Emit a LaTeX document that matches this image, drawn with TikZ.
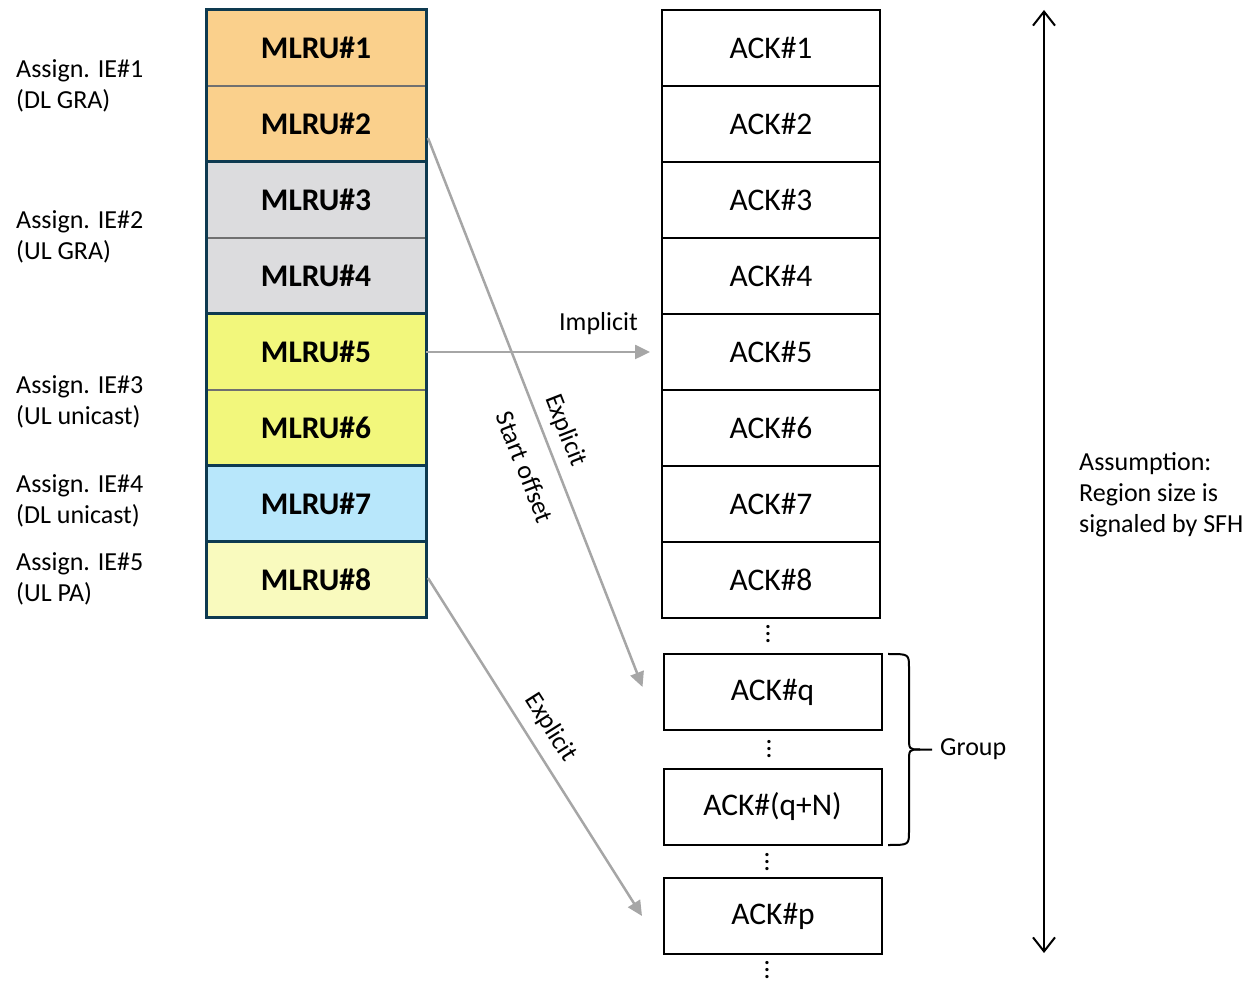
\documentclass[tikz,border=0pt]{standalone}
\usepackage{fontspec}
\setmainfont{Carlito}
\usetikzlibrary{arrows.meta,positioning}
\definecolor{mlruorange}{HTML}{FAD08C}
\definecolor{mlrugray}{HTML}{DCDCDE}
\definecolor{mlruyellow}{HTML}{F2F77C}
\definecolor{mlrublue}{HTML}{B8E7FB}
\definecolor{mlrupale}{HTML}{F9FABE}
\definecolor{mlruedge}{HTML}{0E3A50}
\definecolor{sepgray}{HTML}{707070}
\definecolor{arrgray}{HTML}{A6A6A6}
\tikzset{
  mlru/.style ={draw=sepgray,line width=1.2pt,minimum width=220pt,minimum height=76pt,
                inner sep=0pt,outer sep=0pt,font=\fontsize{31.5}{36}\selectfont\bfseries},
  ack/.style  ={draw,line width=2pt,minimum width=218pt,minimum height=76pt,
                inner sep=0pt,outer sep=0pt,font=\fontsize{31.5}{36}\selectfont},
  grp/.style  ={draw=mlruedge,line width=3pt},
  ie/.style   ={anchor=west,align=left,inner sep=0pt,font=\fontsize{26}{31}\selectfont},
  lbl/.style  ={inner sep=1pt,font=\fontsize{26}{31}\selectfont},
  gar/.style  ={draw=arrgray,line width=2.5pt,-{Triangle[length=15pt,width=14pt]}},
  dar/.style  ={line width=2pt,{Straight Barb[length=14pt,width=22pt]}-{Straight Barb[length=14pt,width=22pt]}},
  vdt/.style  ={inner sep=0pt,font=\fontsize{22}{22}\selectfont\bfseries},
  brc/.style  ={line width=2pt,line join=round},
}
\newcommand{\vd}{\vbox{\baselineskip=7pt\lineskiplimit=0pt\hbox{.}\hbox{.}\hbox{.}}}

\begin{document}
\begin{tikzpicture}[x=1pt,y=1pt,node distance=0pt]
\useasboundingbox (0,0) rectangle (1249,980);
% MLRU column
\node[mlru,fill=mlruorange] (m1) at (316,932) {MLRU\#1};
\foreach \i/\j/\c in {2/1/mlruorange,3/2/mlrugray,4/3/mlrugray,5/4/mlruyellow,
                      6/5/mlruyellow,7/6/mlrublue,8/7/mlrupale}
  \node[mlru,fill=\c,below=of m\j] (m\i) {MLRU\#\i};
\draw[grp] (m1.north west) rectangle (m2.south east);
\draw[grp] (m3.north west) rectangle (m4.south east);
\draw[grp] (m5.north west) rectangle (m6.south east);
\draw[grp] (m7.north west) rectangle (m7.south east);
\draw[grp] (m8.north west) rectangle (m8.south east);
% assignment IEs
\node[ie] (ie1) at (16,894.5) {Assign. IE\#1\\(DL GRA)};
\node[ie] (ie2) at (16,743.5) {Assign. IE\#2\\(UL GRA)};
\node[ie] (ie3) at (16,578.5) {Assign. IE\#3\\(UL unicast)};
\node[ie] (ie4) at (16,479.5) {Assign. IE\#4\\(DL unicast)};
\node[ie] (ie5) at (16,401.5) {Assign. IE\#5\\(UL PA)};
% ACK column
\node[ack] (a1) at (771,932) {ACK\#1};
\foreach \i [evaluate=\i as \j using int(\i-1)] in {2,...,8}
  \node[ack,below=of a\j] (a\i) {ACK\#\i};
\node[vdt] (d1) at (768,346) {\vd};
\node[ack] (q) at (772.5,288) {ACK\#q};
\node[vdt] (d2) at (769,231) {\vd};
\node[ack] (qn) at (772.5,173) {ACK\#(q+N)};
\node[vdt] (d3) at (767,118) {\vd};
\node[ack] (p) at (773,64) {ACK\#p};
\node[vdt] (d4) at (767,10) {\vd};
% group brace
\draw[brc] (888,326) .. controls (909,326) .. (909,312) -- (909,243)
  .. controls (909,230.5) .. (920,230.5) -- (932,230.5);
\draw[brc] (888,135) .. controls (909,135) .. (909,149) -- (909,218)
  .. controls (909,230.5) .. (920,230.5);
\node[lbl,anchor=west,inner sep=0pt] (grpl) at (940,231) {Group};
% mapping arrows
\draw[gar] ([xshift=2pt,yshift=-14pt]m2.east) -- ([xshift=-21pt,yshift=5pt]q.west)
  node[lbl,sloped,pos=0.547,above=8pt] (ex1) {Explicit}
  node[lbl,sloped,pos=0.58,below=18pt] (so) {Start offset};
\draw[gar] (m5.east) -- ([xshift=-12pt]a5.west)
  node[lbl,pos=0.77,above=15pt] (imp) {Implicit};
\draw[gar] ([xshift=2pt,yshift=2pt]m8.east) -- ([xshift=-22pt]p.west)
  node[lbl,sloped,pos=0.48,above=10pt] (ex2) {Explicit};
% region size
\coordinate (rtop) at (1044,970);
\coordinate (rbot) at (1044,27);
\draw[dar] (rtop) -- (rbot);
\node[ie] (asm) at (1079,485) {Assumption:\\Region size is\\signaled by SFH};
\end{tikzpicture}
\end{document}
